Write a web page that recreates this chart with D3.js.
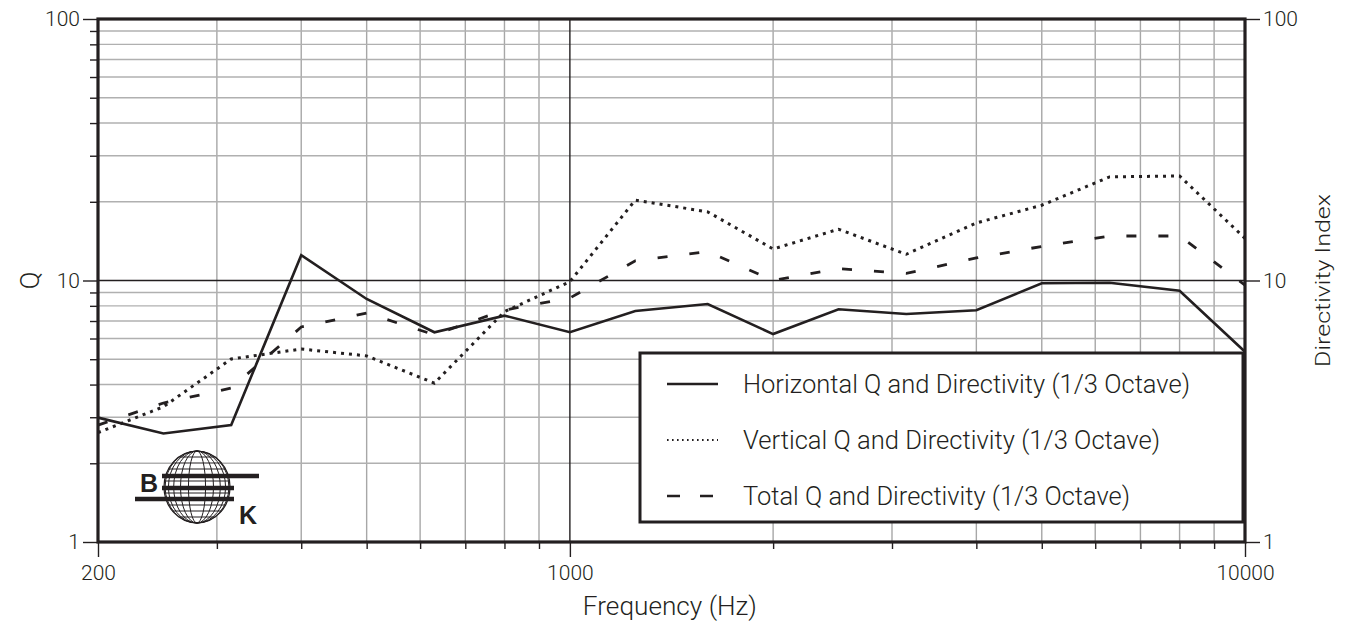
<!DOCTYPE html>
<html>
<head>
<meta charset="utf-8">
<script src="https://cdn.jsdelivr.net/npm/d3@7"></script>
<style>
  body { margin: 0; background: #fff; }
  text { font-family: Roboto, "DejaVu Sans", sans-serif; fill: #231f20; font-weight: 300; }
</style>
</head>
<body>
<div id="chart"></div>
<script>
// 1/3 octave centre frequencies (Hz)
var freqs = [200, 250, 315, 400, 500, 630, 800, 1000, 1250, 1600, 2000, 2500, 3150, 4000, 5000, 6300, 8000, 10000];
var horizontalQ = [2.99, 2.60, 2.80, 12.5, 8.5, 6.34, 7.34, 6.34, 7.65, 8.13, 6.24, 7.76, 7.45, 7.7, 9.76, 9.81, 9.14, 5.34];
var verticalQ = [2.62, 3.29, 5.01, 5.47, 5.15, 4.05, 7.6, 9.9, 20.3, 18.3, 13.2, 15.7, 12.6, 16.6, 19.4, 24.9, 25.1, 14.5];
var totalQ = [2.8, 3.40, 3.88, 6.64, 7.51, 6.2, 7.71, 8.57, 11.9, 12.9, 10.0, 11.1, 10.65, 12.2, 13.5, 14.8, 14.8, 9.6];

var seriesNames = ["Horizontal Q and Directivity (1/3 Octave)", "Vertical Q and Directivity (1/3 Octave)", "Total Q and Directivity (1/3 Octave)"];

var xMajor = [200, 1000, 10000];
var xMinor = [300, 400, 500, 600, 700, 800, 900, 2000, 3000, 4000, 5000, 6000, 7000, 8000, 9000];
var yMajor = [1, 10, 100];
var yMinor = [2, 3, 4, 5, 6, 7, 8, 9, 20, 30, 40, 50, 60, 70, 80, 90];

var W = 1347, H = 629;
var margin = { top: 19, right: 102, bottom: 87, left: 98 };
var width = W - margin.left - margin.right;
var height = H - margin.top - margin.bottom;
var ink = "#231f20";

var svg = d3.select("#chart").append("svg")
  .attr("width", W).attr("height", H);

var g = svg.append("g")
  .attr("transform", "translate(" + margin.left + "," + margin.top + ")");

var x = d3.scaleLog().domain([200, 10000]).range([0, width]);
var y = d3.scaleLog().domain([1, 100]).range([height, 0]);

// minor grid
g.selectAll(".vminor").data(xMinor).enter().append("line")
  .attr("x1", x).attr("x2", x).attr("y1", 0).attr("y2", height)
  .style("stroke", "#a7a7a7").style("stroke-width", 1.4);
g.selectAll(".hminor").data(yMinor).enter().append("line")
  .attr("y1", y).attr("y2", y).attr("x1", 0).attr("x2", width)
  .style("stroke", "#b0b0b0").style("stroke-width", 1.4);
// major grid
g.selectAll(".vmajor").data([1000]).enter().append("line")
  .attr("x1", x).attr("x2", x).attr("y1", 0).attr("y2", height)
  .style("stroke", ink).style("stroke-width", 1.4);
g.selectAll(".hmajor").data([10]).enter().append("line")
  .attr("y1", y).attr("y2", y).attr("x1", 0).attr("x2", width)
  .style("stroke", ink).style("stroke-width", 1.4);

// axes
function styleAxis(sel) {
  sel.select(".domain").remove();
  sel.selectAll("line").style("stroke", ink).style("stroke-width", 1.4);
  sel.selectAll("text").style("font-size", "21px").style("fill", ink)
    .style("font-family", "Roboto, sans-serif").style("font-weight", 300);
}

g.append("g").attr("transform", "translate(0," + height + ")")
  .call(d3.axisBottom(x).tickValues(xMinor).tickSize(7).tickFormat(""))
  .call(styleAxis);
g.append("g").attr("transform", "translate(0," + height + ")")
  .call(d3.axisBottom(x).tickValues(xMajor).tickSize(15).tickPadding(8).tickFormat(d3.format("d")))
  .call(styleAxis);

g.append("g")
  .call(d3.axisLeft(y).tickValues(yMinor).tickSize(8).tickFormat(""))
  .call(styleAxis);
g.append("g")
  .call(d3.axisLeft(y).tickValues(yMajor).tickSize(15).tickPadding(3).tickFormat(d3.format("d")))
  .call(styleAxis);

g.append("g").attr("transform", "translate(" + width + ",0)")
  .call(d3.axisRight(y).tickValues(yMajor).tickSize(15).tickPadding(3).tickFormat(d3.format("d")))
  .call(styleAxis);

// frame
g.append("rect").attr("width", width).attr("height", height)
  .style("fill", "none").style("stroke", ink).style("stroke-width", 3.2);

// series
var line = d3.line()
  .x(function (d) { return x(d.f); })
  .y(function (d) { return y(d.q); });

var series = [
  { values: horizontalQ, dash: null, w: 2.6 },
  { values: verticalQ, dash: "3,5", w: 3 },
  { values: totalQ, dash: "10,22", w: 2.8 }
];

series.forEach(function (s) {
  g.append("path")
    .datum(freqs.map(function (f, i) { return { f: f, q: s.values[i] }; }))
    .attr("d", line)
    .style("fill", "none")
    .style("stroke", ink)
    .style("stroke-width", s.w)
    .style("stroke-dasharray", s.dash);
});

// legend
var legend = svg.append("g").attr("transform", "translate(640,353)");
legend.append("rect").attr("width", 603).attr("height", 169)
  .style("fill", "#fff").style("stroke", ink).style("stroke-width", 3);

var legendDash = [null, "1.6,3.4", "13,20"];
var legendW = [2.4, 1.8, 2.6];
seriesNames.forEach(function (name, i) {
  var ly = 31 + i * 56;
  legend.append("line")
    .attr("x1", 27).attr("x2", 78).attr("y1", ly).attr("y2", ly)
    .style("stroke", ink).style("stroke-width", legendW[i])
    .style("stroke-dasharray", legendDash[i]);
  legend.append("text")
    .attr("x", 103).attr("y", ly + 9)
    .style("font-size", "25px")
    .attr("textLength", [447, 417, 387][i])
    .attr("lengthAdjust", "spacingAndGlyphs")
    .text(name);
});

// axis titles
svg.append("text")
  .attr("x", margin.left + x(1000) + 100).attr("y", 615)
  .attr("text-anchor", "middle")
  .style("font-size", "26px")
  .attr("textLength", 174)
  .attr("lengthAdjust", "spacingAndGlyphs")
  .text("Frequency (Hz)");

svg.append("text")
  .attr("transform", "translate(39," + (margin.top + y(10)) + ") rotate(-90)")
  .attr("text-anchor", "middle")
  .style("font-size", "26px")
  .text("Q");

svg.append("text")
  .attr("transform", "translate(1330," + (margin.top + y(10)) + ") rotate(-90)")
  .attr("text-anchor", "middle")
  .style("font-size", "20px")
  .attr("textLength", 173)
  .attr("lengthAdjust", "spacingAndGlyphs")
  .text("Directivity Index");

// B&K logo
var logo = svg.append("g").attr("transform", "translate(197,487)");
var rx = 33, ry = 36;
logo.append("ellipse").attr("rx", rx).attr("ry", ry)
  .style("fill", "#fff").style("stroke", ink).style("stroke-width", 1.2);
d3.range(1, 6).forEach(function (k) {
  var a = k * Math.PI / 12;
  logo.append("ellipse").attr("rx", rx * Math.cos(a)).attr("ry", ry)
    .style("fill", "none").style("stroke", ink).style("stroke-width", 1);
});
d3.range(-5, 6).forEach(function (k) {
  var yy = ry * k / 6;
  var half = rx * Math.sqrt(1 - (yy * yy) / (ry * ry));
  logo.append("line").attr("x1", -half).attr("x2", half).attr("y1", yy).attr("y2", yy)
    .style("stroke", ink).style("stroke-width", 1);
});
[[-35, 62, -11], [-35, 37, 1], [-62, 37, 12]].forEach(function (b) {
  logo.append("line").attr("x1", b[0]).attr("x2", b[1]).attr("y1", b[2]).attr("y2", b[2])
    .style("stroke", ink).style("stroke-width", 4.5);
});
logo.append("text").attr("x", -57).attr("y", 5)
  .style("font-family", "'Liberation Sans', Arial, sans-serif")
  .style("font-weight", "bold").style("font-size", "25px").text("B");
logo.append("text").attr("x", 42).attr("y", 37)
  .style("font-family", "'Liberation Sans', Arial, sans-serif")
  .style("font-weight", "bold").style("font-size", "25px").text("K");
</script>
</body>
</html>
